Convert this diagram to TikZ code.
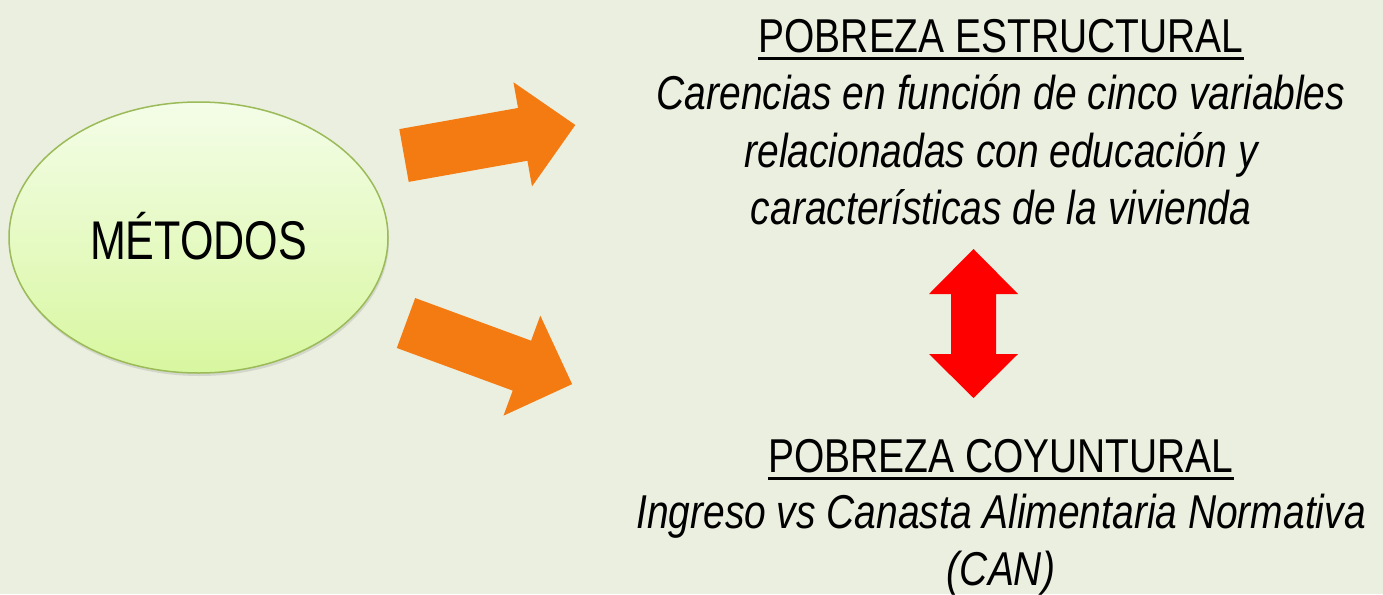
\documentclass[tikz,border=0pt]{standalone}
\usepackage{fontspec}
\setmainfont{Liberation Sans}[FakeStretch=0.82]
\newfontfamily\metfont{Liberation Sans}[FakeStretch=0.79]
\usetikzlibrary{shapes.geometric,shadows}
\definecolor{bg}{HTML}{EBEFDF}
\definecolor{orangearr}{HTML}{F47A12}
\definecolor{redarr}{HTML}{FF0000}
\definecolor{ellborder}{HTML}{9BBB59}
\definecolor{elltop}{HTML}{F4FDE8}
\definecolor{ellbot}{HTML}{D8F7A0}
\begin{document}
\begin{tikzpicture}[x=1pt,y=-1pt,
  ttl/.style={anchor=base, inner sep=0pt, font=\fontsize{47.5}{57}\selectfont},
  desc/.style={anchor=base, inner sep=0pt, font=\fontsize{47.5}{57}\selectfont\itshape},
  uline/.style={line width=2.8pt, black},
  orangeblock/.style={fill=orangearr},
  redblock/.style={fill=redarr},
  methodell/.style={ellipse, draw=ellborder, line width=1.5pt,
    top color=elltop, bottom color=ellbot,
    minimum width=379pt, minimum height=271pt, inner sep=0pt,
    text height=43pt, text depth=0pt,
    font=\metfont\fontsize{54.5}{60}\selectfont,
    drop shadow={shadow xshift=1pt, shadow yshift=-3pt, opacity=0.22}}
]
\fill[bg] (0,0) rectangle (1383,594);
\useasboundingbox (0,0) rectangle (1383,594);

% central ellipse
\node[methodell] (met) at (198.5,237.5) {MÉTODOS};

% upper orange block arrow
\begin{scope}[shift={(404,155.5)}, rotate=10.1]
  \fill[orangeblock] (0,-26.8) -- (120.6,-26.8) -- (120.6,-52.9) -- (174,0)
    -- (120.6,52.9) -- (120.6,26.8) -- (0,26.8) -- cycle;
\end{scope}

% lower orange block arrow
\begin{scope}[shift={(406,323)}, rotate=-20.2]
  \fill[orangeblock] (0,-26.6) -- (123.5,-26.6) -- (123.5,-53.3) -- (177,0)
    -- (123.5,53.3) -- (123.5,26.6) -- (0,26.6) -- cycle;
\end{scope}

% red double arrow
\fill[redblock] (973.5,249) -- (1018,294) -- (996,294) -- (996,354) -- (1018,354)
  -- (973.5,398) -- (929,354) -- (951,354) -- (951,294) -- (929,294) -- cycle;

% upper text block
\node[ttl] (t1) at (1001,52.3) {POBREZA ESTRUCTURAL};
\draw[uline] ([yshift=-6.3pt]t1.base west) -- ([yshift=-6.3pt]t1.base east);
\node[desc] (d1a) at (1001,109.5) {Carencias en función de cinco variables};
\node[desc] (d1b) at (1001,167) {relacionadas con educación y};
\node[desc] (d1c) at (1001,224) {características de la vivienda};

% lower text block
\node[ttl] (t2) at (1001,472) {POBREZA COYUNTURAL};
\draw[uline] ([yshift=-6.3pt]t2.base west) -- ([yshift=-6.3pt]t2.base east);
\node[desc] (d2a) at (1001,528.5) {Ingreso vs Canasta Alimentaria Normativa};
\node[desc] (d2b) at (1001,585) {(CAN)};
\end{tikzpicture}
\end{document}
